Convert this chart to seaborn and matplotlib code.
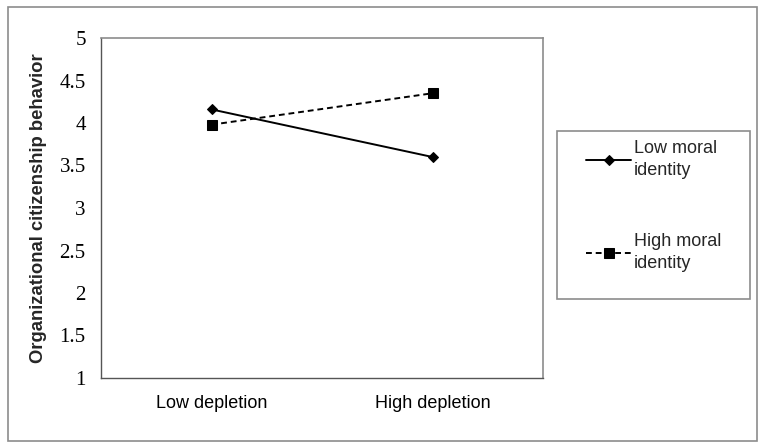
import matplotlib
matplotlib.use("Agg")
import matplotlib.pyplot as plt
import matplotlib.patches as patches
import pandas as pd
import seaborn as sns

# values
depletion = ["Low depletion", "High depletion"]
low_moral = [4.16, 3.60]
high_moral = [3.98, 4.35]
series_names = ["Low moral identity", "High moral identity"]
legend_labels = ["Low moral\nidentity", "High moral\nidentity"]
y_ticks = [1, 1.5, 2, 2.5, 3, 3.5, 4, 4.5, 5]

df = pd.DataFrame({
    "depletion": depletion * 2,
    "ocb": low_moral + high_moral,
    "identity": [series_names[0]] * 2 + [series_names[1]] * 2,
})

sns.set_style("white")
plt.rcParams["font.family"] = ["Liberation Sans", "DejaVu Sans"]

fig = plt.figure(figsize=(7.6, 4.45), dpi=100)
ax = fig.add_axes([101 / 760, 1 - 378 / 445, 442 / 760, 340 / 445])

sns.lineplot(data=df, x="depletion", y="ocb", style="identity",
             markers={series_names[0]: "D", series_names[1]: "s"},
             dashes={series_names[0]: "", series_names[1]: (3, 2)},
             color="black", linewidth=1.4, markeredgecolor="black",
             legend=False, ax=ax)
# marker sizes differ per series
for line, ms in zip(ax.get_lines(), [5, 7.5]):
    line.set_markersize(ms)

ax.set_xlim(-0.5, 1.5)
ax.set_ylim(1, 5)
ax.set_yticks(y_ticks)
ax.set_yticklabels([f"{t:g}" for t in y_ticks], family="Liberation Serif", fontsize=15)
ax.set_xticks([0, 1])
ax.set_xticklabels(depletion, fontsize=13)
ax.set_xlabel("")
ax.set_ylabel("Organizational citizenship behavior", fontsize=13.3, fontweight="bold", labelpad=9)

# category boundary ticks on the x axis
ax.set_xticks([-0.5, 0.5, 1.5], minor=True)
ax.tick_params(axis="x", which="major", length=0, pad=12)
ax.tick_params(axis="x", which="minor", length=5, width=0.8, color="#555555", direction="out")
ax.tick_params(axis="y", length=5, width=0.8, color="#555555", direction="out", pad=6)
ax.tick_params(axis="both", labelcolor="black")

for side in ["left", "bottom"]:
    ax.spines[side].set_color("#555555")
    ax.spines[side].set_linewidth(1.0)
for side in ["top", "right"]:
    ax.spines[side].set_color("#8c8c8c")
    ax.spines[side].set_linewidth(1.2)

# legend box and entries
fig.patches.append(patches.Rectangle((557 / 760, 1 - 299 / 445), 193 / 760, 168 / 445,
                                     transform=fig.transFigure, fill=False,
                                     edgecolor="#8c8c8c", linewidth=1.2))
handles = ax.get_lines()[:2]
leg = fig.legend(handles, legend_labels, loc="center left",
                 bbox_to_anchor=(570 / 760, 1 - 206 / 445), frameon=False,
                 fontsize=13, labelspacing=3.0, handlelength=2.5, handletextpad=0.15)
for txt in leg.get_texts():
    txt.set_linespacing(1.35)

# outer chart border
fig.patches.append(patches.Rectangle((8 / 760, 4 / 445), 749 / 760, 434 / 445,
                                     transform=fig.transFigure, fill=False,
                                     edgecolor="#8c8c8c", linewidth=1.2))

fig.savefig("out.png", dpi=100)
